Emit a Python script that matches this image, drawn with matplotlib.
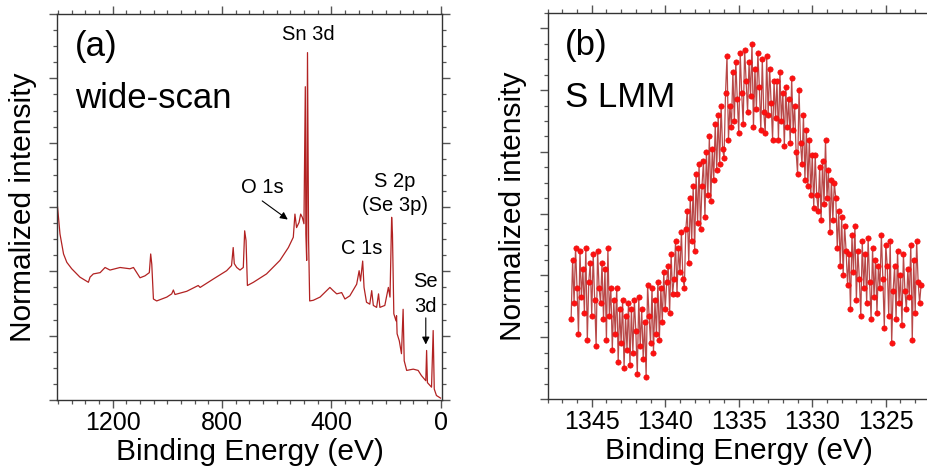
import matplotlib
matplotlib.use("Agg")
import matplotlib.pyplot as plt
import numpy as np
from matplotlib.ticker import MultipleLocator, NullFormatter

plt.rcParams["font.family"] = ["Liberation Sans", "DejaVu Sans"]

# (a) wide scan
wide_be = [1402, 1393, 1380, 1368, 1350, 1320, 1289, 1283, 1271, 1246, 1228, 1210,
           1173, 1137, 1124, 1112, 1100, 1082, 1066, 1061, 1057, 1051, 1039, 1002,
           984, 978, 972, 929, 887, 880, 832, 783, 765, 759, 755, 746, 734, 722,
           717, 712, 707, 685, 637, 588, 557, 539, 533, 527, 518, 512, 506, 500,
           495, 493, 490, 487, 483, 479, 466, 441, 405, 393, 380, 362, 350, 332,
           307, 298, 293, 285, 280, 271, 259, 252, 246, 234, 227, 222, 204, 191,
           185, 179, 176, 171, 163, 161, 159, 151, 143, 137, 133, 124, 100, 82,
           70, 54, 51, 48, 33, 27, 23, 15, 0]
wide_int = [3.00, 2.58, 2.27, 2.14, 2.04, 1.91, 1.83, 1.91, 1.96, 1.98, 2.06, 2.02,
            2.06, 2.04, 2.06, 1.98, 1.90, 1.93, 1.98, 2.27, 2.11, 1.57, 1.54, 1.60,
            1.65, 1.71, 1.64, 1.69, 1.78, 1.75, 1.88, 2.01, 2.09, 2.37, 2.12, 2.06,
            2.02, 2.06, 2.63, 2.48, 1.78, 1.83, 1.96, 2.17, 2.37, 2.53, 2.89, 2.68,
            2.76, 2.89, 2.84, 2.74, 4.87, 2.58, 2.17, 5.40, 2.48, 1.54, 1.55, 1.60,
            1.75, 1.70, 1.65, 1.67, 1.57, 1.62, 1.80, 2.01, 1.85, 2.16, 1.75, 1.52,
            1.49, 1.70, 1.47, 1.44, 1.65, 1.44, 1.47, 1.75, 1.60, 2.84, 2.58, 1.34,
            1.23, 1.31, 1.03, 0.92, 0.72, 1.41, 0.61, 0.46, 0.48, 0.46, 0.38, 0.30,
            0.77, 0.27, 0.20, 1.08, 0.17, 0.07, 0.03]

# (b) S LMM, 0.1 eV steps from 1346.4 eV down to 1322.6 eV
lmm_be = np.round(np.arange(1346.4, 1322.55, -0.1), 1)
lmm_int = [
    1.30, 2.25, 1.55, 2.45, 1.80, 1.05, 2.40, 1.65, 2.10, 1.40,
    2.45, 0.95, 1.90, 2.20, 1.35, 2.35, 1.60, 0.85, 2.40, 1.80,
    1.55, 2.20, 1.30, 2.10, 0.95, 2.45, 1.35, 1.80, 0.80, 1.60,
    1.05, 1.80, 0.60, 1.45, 0.90, 1.60, 0.50, 1.35, 0.80, 1.55,
    0.55, 1.45, 0.75, 1.60, 1.10, 0.40, 1.65, 0.85, 1.45, 0.65,
    1.25, 0.35, 1.85, 1.35, 0.90, 1.80, 0.75, 1.60, 1.05, 1.90,
    0.95, 1.80, 1.25, 2.05, 1.45, 1.90, 2.15, 1.40, 2.35, 1.70,
    1.95, 2.55, 1.70, 2.45, 2.05, 2.70, 1.95, 1.80, 2.75, 3.05,
    2.20, 3.25, 2.55, 3.45, 2.40, 3.65, 2.85, 3.80, 2.75, 3.45,
    3.85, 2.95, 4.00, 3.30, 4.25, 3.20, 4.05, 3.55, 4.45, 3.70,
    4.60, 3.80, 4.75, 4.05, 3.90, 4.95, 5.55, 4.20, 4.75, 4.40,
    5.30, 4.50, 5.45, 4.85, 4.30, 5.60, 4.95, 4.45, 5.65, 5.15,
    4.65, 5.45, 4.90, 5.75, 4.40, 5.35, 4.70, 5.60, 5.05, 4.35,
    5.50, 4.65, 4.30, 5.55, 4.60, 5.35, 4.80, 4.20, 5.15, 4.55,
    5.15, 4.20, 5.30, 4.50, 4.95, 4.10, 5.05, 4.40, 4.85, 4.15,
    5.20, 4.35, 4.75, 4.00, 3.65, 5.00, 4.15, 3.80, 4.60, 3.55,
    4.35, 3.45, 4.20, 3.30, 3.95, 3.10, 3.95, 3.30, 3.05, 3.75,
    2.90, 3.85, 3.15, 4.20, 3.25, 3.70, 2.70, 3.55, 2.90, 3.50,
    3.25, 2.45, 3.05, 2.15, 2.95, 2.00, 2.80, 2.40, 1.85, 2.35,
    1.45, 2.65, 2.05, 2.80, 1.60, 2.40, 1.95, 1.35, 2.55, 1.80,
    2.35, 1.55, 2.60, 1.90, 1.30, 2.45, 1.65, 2.25, 1.40, 2.15,
    1.80, 2.65, 1.95, 1.15, 2.50, 2.15, 1.35, 2.55, 0.90, 1.75,
    2.15, 1.30, 2.40, 1.55, 2.00, 1.20, 2.35, 1.75, 1.45, 2.10,
    1.65, 2.50, 0.95, 2.25, 1.40, 2.55, 1.90, 1.55, 1.85,
]

fig = plt.figure(figsize=(9.28, 4.70), dpi=100)
ax1 = fig.add_axes([0.0617, 0.1489, 0.4142, 0.8213])
ax2 = fig.add_axes([0.5901, 0.1511, 0.4121, 0.8213])


def style_axes(ax):
    for sp in ax.spines.values():
        sp.set_color("#333333")
        sp.set_linewidth(1.0)
    ax.tick_params(which="both", direction="out", top=True, right=True,
                   color="#555555", labelsize=18, pad=2.5)
    ax.tick_params(which="major", length=5.5, width=1.0)
    ax.tick_params(which="minor", length=3, width=0.9)
    ax.yaxis.set_major_locator(MultipleLocator(1))
    ax.yaxis.set_minor_locator(MultipleLocator(0.25))
    ax.yaxis.set_major_formatter(NullFormatter())
    ax.set_xlabel("Binding Energy (eV)", fontsize=21.5)
    ax.set_ylabel("Normalized intensity", fontsize=21.5)
    ax.xaxis.set_label_coords(0.5, -0.098)
    ax.yaxis.set_label_coords(-0.054, 0.5)


ax1.plot(wide_be, wide_int, color="#b22222", lw=0.9)
ax1.set_xlim(1403, -4)
ax1.set_ylim(0, 6)
ax1.xaxis.set_major_locator(MultipleLocator(400))
ax1.xaxis.set_minor_locator(MultipleLocator(50))
style_axes(ax1)

ax1.text(0.047, 0.915, "(a)", transform=ax1.transAxes, fontsize=25, va="center")
ax1.text(0.047, 0.78, "wide-scan", transform=ax1.transAxes, fontsize=25, va="center")
ax1.text(484, 5.68, "Sn 3d", fontsize=14.5, ha="center", va="center")
ax1.text(652, 3.30, "O 1s", fontsize=14.5, ha="center", va="center")
ax1.annotate("", xy=(551, 2.78), xytext=(661, 3.12),
             arrowprops=dict(arrowstyle="-|>", color="black", lw=0.8, mutation_scale=11))
ax1.text(167, 3.39, "S 2p", fontsize=14.5, ha="center", va="center")
ax1.text(167, 3.03, "(Se 3p)", fontsize=14.5, ha="center", va="center")
ax1.text(289, 2.36, "C 1s", fontsize=14.5, ha="center", va="center")
ax1.text(57, 1.84, "Se", fontsize=14.5, ha="center", va="center")
ax1.text(57, 1.46, "3d", fontsize=14.5, ha="center", va="center")
ax1.annotate("", xy=(54, 0.82), xytext=(54, 1.32),
             arrowprops=dict(arrowstyle="-|>", color="black", lw=0.8, mutation_scale=11))

ax2.plot(lmm_be, lmm_int, color="#b84848", lw=0.9, marker="o", ms=3.8,
         mfc="#ff1010", mec="#e81010", mew=0.5)
ax2.set_xlim(1348, 1321.99)
ax2.set_ylim(0, 6.25)
ax2.xaxis.set_major_locator(MultipleLocator(5))
ax2.xaxis.set_minor_locator(MultipleLocator(1))
style_axes(ax2)

ax2.text(0.045, 0.915, "(b)", transform=ax2.transAxes, fontsize=25, va="center")
ax2.text(0.045, 0.78, "S LMM", transform=ax2.transAxes, fontsize=25, va="center")

fig.savefig("out.png", dpi=100)
